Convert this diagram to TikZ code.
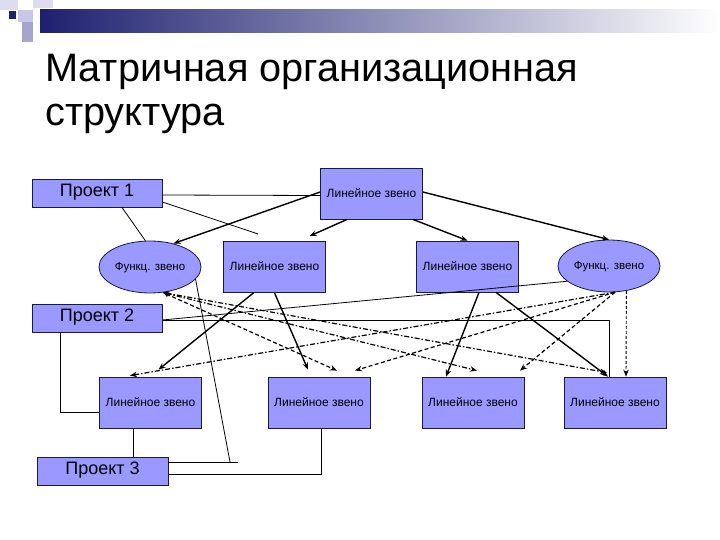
\documentclass[tikz,border=0pt]{standalone}
\usepackage{fontspec}
\setmainfont{Liberation Sans}
\usetikzlibrary{arrows.meta,shapes.geometric,calc}
\definecolor{boxfill}{RGB}{153,153,255}
\definecolor{boxline}{RGB}{25,25,70}
\definecolor{barnavy}{RGB}{30,32,112}
\definecolor{barmid}{RGB}{150,154,190}
\definecolor{sqA}{RGB}{220,220,238}
\definecolor{sqB}{RGB}{200,200,228}
\definecolor{sqC}{RGB}{165,165,205}
\begin{document}
\begin{tikzpicture}[x=1pt,y=-1pt,
  box/.style={draw=boxline,fill=boxfill,line width=0.8pt,inner sep=0pt,anchor=center,text height=0.72em,text depth=0pt},
  proj/.style={box,minimum width=130pt,minimum height=28pt,font=\fontsize{18}{20}\selectfont},
  lin/.style={box,minimum width=102pt,minimum height=51pt,font=\fontsize{12}{14}\selectfont},
  func/.style={box,ellipse,minimum width=102pt,minimum height=52pt,font=\fontsize{11.5}{13}\selectfont},
  conn/.style={line width=0.8pt},
  arr/.style={line width=1.4pt,-{Stealth[length=7pt,width=5.5pt]}},
  dsh/.style={line width=1.2pt,dash pattern=on 4pt off 2.5pt,-{Stealth[length=7pt,width=5.5pt]}},
  ddot/.style={line width=1.2pt,dash pattern=on 5pt off 2pt on 1.5pt off 2pt,-{Stealth[length=7pt,width=5.5pt]}},
  both/.style={{Stealth[length=6pt,width=5pt]}-{Stealth[length=7pt,width=5.5pt]}},
  ttl/.style={anchor=base west,inner sep=0pt,font=\fontsize{39.7}{45}\selectfont}
]
\useasboundingbox (0,0) rectangle (720,540);
\fill[white] (0,0) rectangle (720,540);
% header decoration
\fill[sqA] (0,0) rectangle (18,10);
\fill[sqA] (33,0) rectangle (53,8);
\fill[sqB] (18,10) rectangle (33,22);
\fill[sqC] (22,22) rectangle (33,42);
\fill[barnavy] (9,11) rectangle (16,19);
\shade[left color=barnavy,middle color=barmid,right color=white] (40,10) rectangle (720,33);
% title
\node[ttl] (t1) at (45,82) {Матричная организационная};
\node[ttl] (t2) at (45,126) {структура};
% nodes
\node[proj] (p1) at (97,193) {Проект 1};
\node[lin] (tl) at (371.5,193.5) {Линейное звено};
\node[func] (fl) at (150,267) {Функц. звено};
\node[lin] (l2a) at (274.5,267) {Линейное звено};
\node[lin] (l2b) at (467.5,266.5) {Линейное звено};
\node[func] (fr) at (609,266) {Функц. звено};
\node[proj] (p2) at (97,318) {Проект 2};
\node[lin] (l3a) at (150.5,402.5) {Линейное звено};
\node[lin] (l3b) at (319,402.5) {Линейное звено};
\node[lin] (l3c) at (473,402.5) {Линейное звено};
\node[lin] (l3d) at (615,402.5) {Линейное звено};
\node[proj,minimum width=131pt] (p3) at (102.5,471) {Проект 3};
% free ends
\coordinate (c3) at (258,234);
\coordinate (c4) at (230,462);
\coordinate (c5) at (238,462);
% thin connectors
\draw[conn] ([yshift=-2pt]p1.east) -- ([yshift=-2pt]tl.west);
\draw[conn] ([xshift=25pt]p1.south) -- (fl.100);
\draw[conn] ([yshift=-9pt]p1.east) -- (c3);
\draw[conn] (fl.-15) -- (c4);
\draw[conn] ([yshift=9pt]p3.east) -- (c5);
\draw[conn] ([yshift=-3pt]p3.east) -| ([xshift=2pt]l3b.south);
\draw[conn] ([xshift=-17pt]l3a.south) -- ([xshift=-17pt]l3a.south |- p3.north);
\draw[conn] ([xshift=-37pt]p2.south) |- ([yshift=-9.5pt]l3a.west);
\draw[conn] ([yshift=-2pt]p2.east) -| ([xshift=-6pt]l3d.north);
\draw[conn] ([yshift=-2pt]p2.east) -- (fr.200);
% solid arrows
\draw[arr] ([yshift=1.5pt]tl.west) -- (fl.45);
\draw[arr] ([xshift=27pt]tl.south west) -- ([xshift=35pt,yshift=5pt]l2a.north);
\draw[arr] ([xshift=-10pt]tl.south east) -- (l2b.north);
\draw[arr] ([yshift=1.5pt]tl.east) -- (fr.north);
\draw[arr] ([xshift=-21pt]l2a.south) -- ([xshift=8pt,yshift=7pt]l3a.north);
\draw[arr] (l2a.south) -- ([xshift=-11pt,yshift=7pt]l3b.north);
\draw[arr] ([xshift=11.5pt]l2b.south) -- ([xshift=-27pt]l3c.north);
\draw[arr] ([xshift=28.5pt]l2b.south) -- ([xshift=-7pt]l3d.north);
% dashed arrows from left functional unit
\draw[dsh,both] (fl.-63) -- ([xshift=18pt,yshift=6pt]l3b.north);
\draw[ddot,both] (fl.-63) -- ([xshift=4pt,yshift=6pt]l3c.north);
\draw[ddot,both] (fl.-63) -- ([xshift=-8pt,yshift=4pt]l3d.north);
% dashed arrows from right functional unit
\draw[ddot] (fr.-77) -- ([xshift=-20.5pt,yshift=1pt]l3a.north);
\draw[dsh] (fr.-77) -- ([xshift=36pt,yshift=6pt]l3b.north);
\draw[dsh] (fr.-77) -- ([xshift=47pt,yshift=6pt]l3c.north);
\draw[dsh,line width=0.9pt,dash pattern=on 3pt off 2pt] (fr.-55) -- ([xshift=11pt]l3d.north);
\end{tikzpicture}
\end{document}
